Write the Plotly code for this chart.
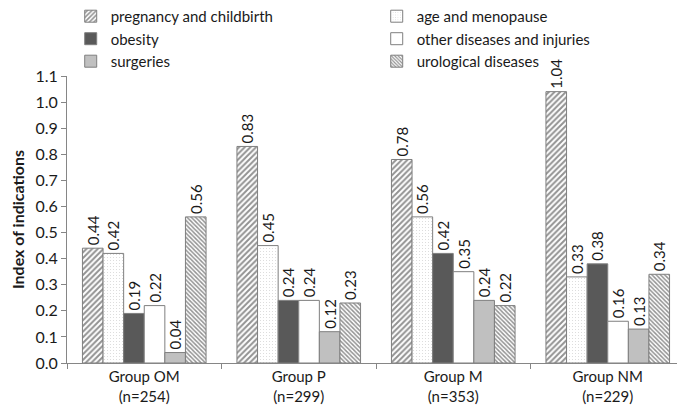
import plotly.graph_objects as go

groups = ["Group OM<br>(n=254)", "Group P<br>(n=299)", "Group M<br>(n=353)", "Group NM<br>(n=229)"]

series_names = [
    "pregnancy and childbirth",
    "age and menopause",
    "obesity",
    "other diseases and injuries",
    "surgeries",
    "urological diseases",
]

pregnancy = [0.44, 0.83, 0.78, 1.04]
age = [0.42, 0.45, 0.56, 0.33]
obesity = [0.19, 0.24, 0.42, 0.38]
other = [0.22, 0.24, 0.35, 0.16]
surgeries = [0.04, 0.12, 0.24, 0.13]
urological = [0.56, 0.23, 0.22, 0.34]

series_values = [pregnancy, age, obesity, other, surgeries, urological]

FONT = "Lato"
OUTLINE = "#7f7f7f"

# marker style per series (colour or hatch pattern)
styles = [
    dict(color="white", pattern=dict(shape="/", size=4, solidity=0.5, fgcolor="#262626", bgcolor="white")),
    dict(color="white", pattern=dict(shape=".", size=3, solidity=0.1, fgcolor="#a8a8a8", bgcolor="white")),
    dict(color="#595959"),
    dict(color="white"),
    dict(color="#c0c0c0"),
    dict(color="white", pattern=dict(shape="\\", size=3, solidity=0.5, fgcolor="#262626", bgcolor="white")),
]

fig = go.Figure()
for name, vals, st in zip(series_names, series_values, styles):
    fig.add_trace(
        go.Bar(
            name=name,
            x=groups,
            y=vals,
            marker=dict(line=dict(color=OUTLINE, width=1), **st),
            text=[f"{v:.2f}" for v in vals],
            textposition="outside",
            textangle=-90,
            constraintext="none",
            cliponaxis=False,
            textfont=dict(family=FONT, size=15, color="#1a1a1a"),
        )
    )

# the page adds an 8px body margin, so margins are shifted by 8px
fig.update_layout(
    width=685,
    height=418,
    margin=dict(l=59, r=8, t=68, b=63, autoexpand=False),
    plot_bgcolor="white",
    paper_bgcolor="white",
    barmode="group",
    bargap=0.2,
    bargroupgap=0,
    font=dict(family=FONT, size=15, color="#1a1a1a"),
    showlegend=True,
    legend=dict(
        orientation="h",
        x=0.006,
        xanchor="left",
        y=1.265,
        yanchor="top",
        entrywidth=261,
        entrywidthmode="pixels",
        itemwidth=30,
        font=dict(family=FONT, size=15),
        tracegroupgap=0,
        bgcolor="rgba(0,0,0,0)",
    ),
)

fig.update_yaxes(
    range=[0, 1.1],
    dtick=0.1,
    tickformat=".1f",
    showgrid=False,
    zeroline=False,
    showline=True,
    linecolor="#868686",
    linewidth=1,
    ticks="outside",
    ticklen=5,
    tickcolor="#868686",
    tickfont=dict(family=FONT, size=16),
    title=dict(text="<b>Index of indications</b>", font=dict(family=FONT, size=16), standoff=14),
)

fig.update_xaxes(
    showgrid=False,
    showline=True,
    linecolor="#868686",
    linewidth=1,
    ticks="outside",
    tickson="boundaries",
    ticklen=5,
    tickcolor="#868686",
    tickfont=dict(family=FONT, size=15),
)

fig.write_html("out.html")
